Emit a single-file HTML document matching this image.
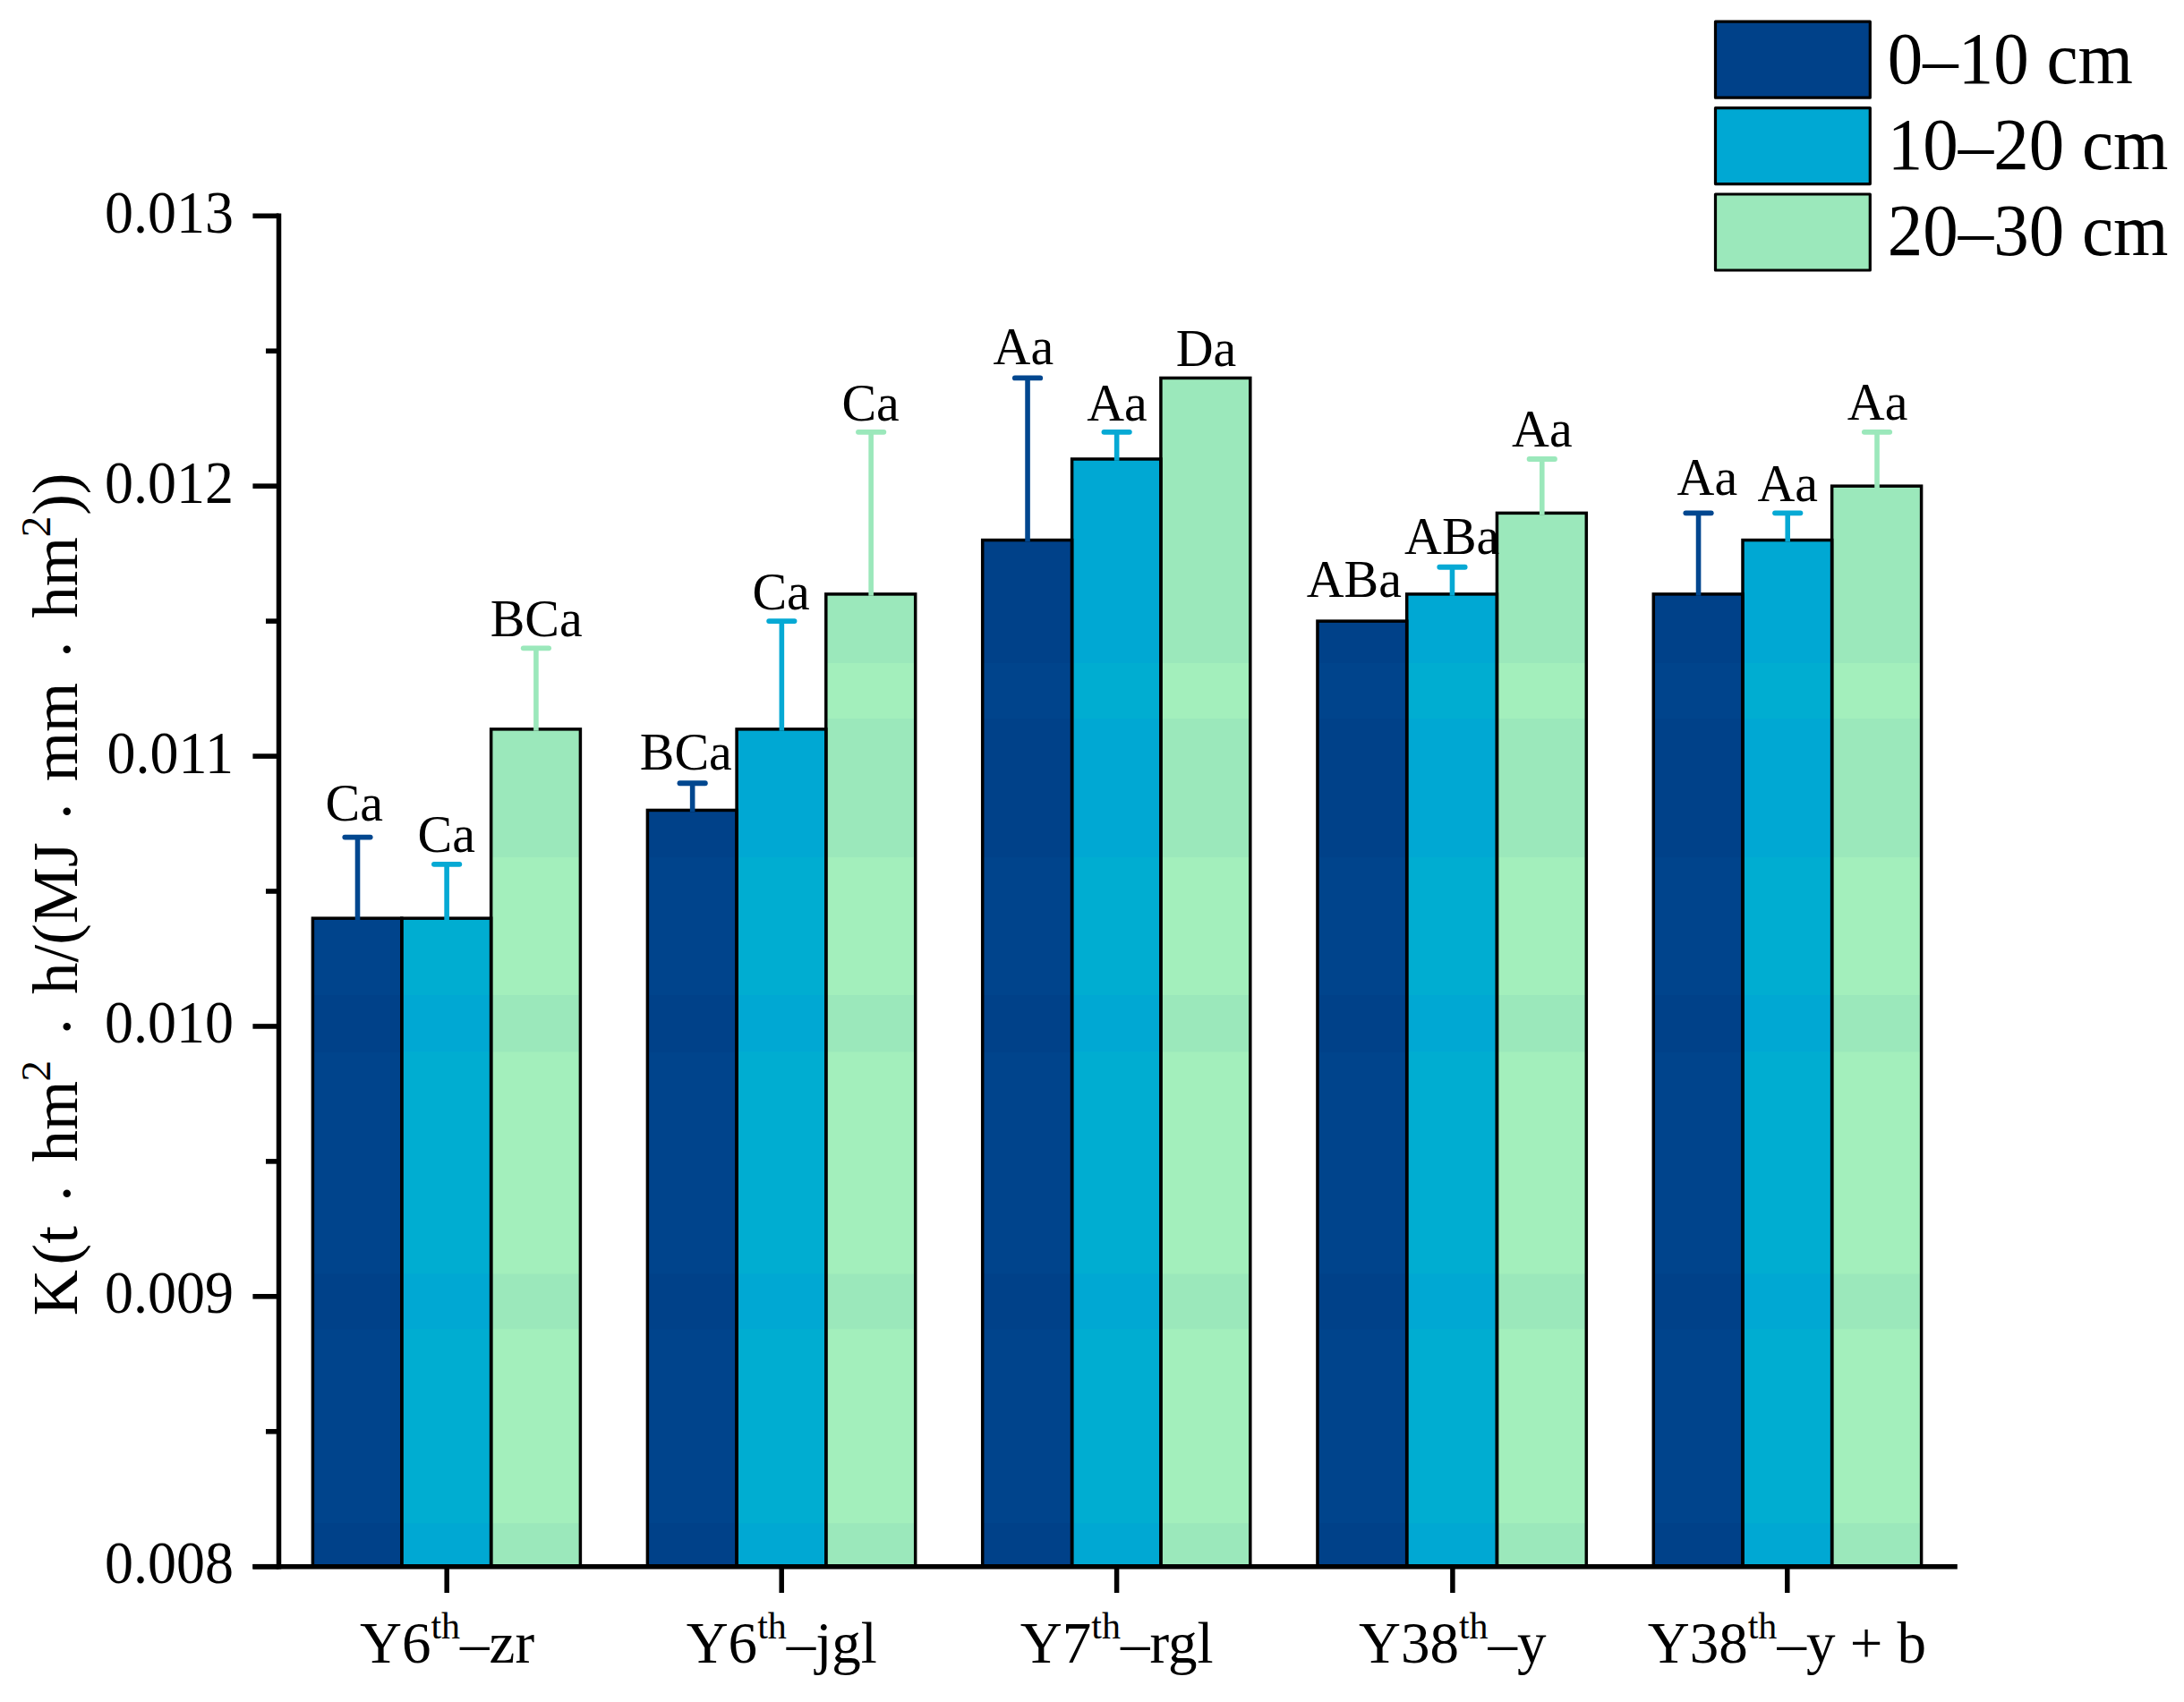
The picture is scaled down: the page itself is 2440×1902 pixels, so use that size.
<!DOCTYPE html>
<html lang="en">
<head>
<meta charset="utf-8">
<title>Soil erodibility K by depth</title>
<style>
html,body{margin:0;padding:0;background:#fff;}
body{width:2440px;height:1902px;overflow:hidden;}
svg{display:block;}
text{font-family:"Liberation Serif","Times New Roman",serif;fill:#000;}
</style>
</head>
<body>
<svg width="2440" height="1902" viewBox="0 0 2440 1902">
<rect x="0" y="0" width="2440" height="1902" fill="#fff"/>

<g stroke="none">
<rect x="349.40" y="1026.19" width="99.40" height="724.51" fill="#004189"/>
<rect x="349.40" y="1026.19" width="99.40" height="85.81" fill="#00448c"/>
<rect x="349.40" y="1175.50" width="99.40" height="248.10" fill="#00448c"/>
<rect x="349.40" y="1485.30" width="99.40" height="216.90" fill="#00448c"/>
<rect x="448.80" y="1026.19" width="99.85" height="724.51" fill="#00a8d3"/>
<rect x="448.80" y="1026.19" width="99.85" height="85.81" fill="#00add1"/>
<rect x="448.80" y="1175.50" width="99.85" height="248.10" fill="#00add1"/>
<rect x="448.80" y="1485.30" width="99.85" height="216.90" fill="#00add1"/>
<rect x="548.65" y="814.87" width="99.75" height="935.83" fill="#9be8bb"/>
<rect x="548.65" y="958.00" width="99.75" height="154.00" fill="#a3efbc"/>
<rect x="548.65" y="1175.50" width="99.75" height="248.10" fill="#a3efbc"/>
<rect x="548.65" y="1485.30" width="99.75" height="216.90" fill="#a3efbc"/>
<rect x="723.40" y="905.44" width="99.70" height="845.26" fill="#004189"/>
<rect x="723.40" y="958.00" width="99.70" height="154.00" fill="#00448c"/>
<rect x="723.40" y="1175.50" width="99.70" height="248.10" fill="#00448c"/>
<rect x="723.40" y="1485.30" width="99.70" height="216.90" fill="#00448c"/>
<rect x="823.10" y="814.87" width="99.70" height="935.83" fill="#00a8d3"/>
<rect x="823.10" y="958.00" width="99.70" height="154.00" fill="#00add1"/>
<rect x="823.10" y="1175.50" width="99.70" height="248.10" fill="#00add1"/>
<rect x="823.10" y="1485.30" width="99.70" height="216.90" fill="#00add1"/>
<rect x="922.80" y="663.93" width="99.90" height="1086.77" fill="#9be8bb"/>
<rect x="922.80" y="741.00" width="99.90" height="62.00" fill="#a3efbc"/>
<rect x="922.80" y="958.00" width="99.90" height="154.00" fill="#a3efbc"/>
<rect x="922.80" y="1175.50" width="99.90" height="248.10" fill="#a3efbc"/>
<rect x="922.80" y="1485.30" width="99.90" height="216.90" fill="#a3efbc"/>
<rect x="1097.70" y="603.56" width="99.90" height="1147.14" fill="#004189"/>
<rect x="1097.70" y="741.00" width="99.90" height="62.00" fill="#00448c"/>
<rect x="1097.70" y="958.00" width="99.90" height="154.00" fill="#00448c"/>
<rect x="1097.70" y="1175.50" width="99.90" height="248.10" fill="#00448c"/>
<rect x="1097.70" y="1485.30" width="99.90" height="216.90" fill="#00448c"/>
<rect x="1197.60" y="512.99" width="99.30" height="1237.71" fill="#00a8d3"/>
<rect x="1197.60" y="741.00" width="99.30" height="62.00" fill="#00add1"/>
<rect x="1197.60" y="958.00" width="99.30" height="154.00" fill="#00add1"/>
<rect x="1197.60" y="1175.50" width="99.30" height="248.10" fill="#00add1"/>
<rect x="1197.60" y="1485.30" width="99.30" height="216.90" fill="#00add1"/>
<rect x="1296.90" y="422.43" width="99.90" height="1328.27" fill="#9be8bb"/>
<rect x="1296.90" y="741.00" width="99.90" height="62.00" fill="#a3efbc"/>
<rect x="1296.90" y="958.00" width="99.90" height="154.00" fill="#a3efbc"/>
<rect x="1296.90" y="1175.50" width="99.90" height="248.10" fill="#a3efbc"/>
<rect x="1296.90" y="1485.30" width="99.90" height="216.90" fill="#a3efbc"/>
<rect x="1471.95" y="694.12" width="99.75" height="1056.58" fill="#004189"/>
<rect x="1471.95" y="741.00" width="99.75" height="62.00" fill="#00448c"/>
<rect x="1471.95" y="958.00" width="99.75" height="154.00" fill="#00448c"/>
<rect x="1471.95" y="1175.50" width="99.75" height="248.10" fill="#00448c"/>
<rect x="1471.95" y="1485.30" width="99.75" height="216.90" fill="#00448c"/>
<rect x="1571.70" y="663.93" width="100.75" height="1086.77" fill="#00a8d3"/>
<rect x="1571.70" y="741.00" width="100.75" height="62.00" fill="#00add1"/>
<rect x="1571.70" y="958.00" width="100.75" height="154.00" fill="#00add1"/>
<rect x="1571.70" y="1175.50" width="100.75" height="248.10" fill="#00add1"/>
<rect x="1571.70" y="1485.30" width="100.75" height="216.90" fill="#00add1"/>
<rect x="1672.45" y="573.37" width="99.85" height="1177.33" fill="#9be8bb"/>
<rect x="1672.45" y="741.00" width="99.85" height="62.00" fill="#a3efbc"/>
<rect x="1672.45" y="958.00" width="99.85" height="154.00" fill="#a3efbc"/>
<rect x="1672.45" y="1175.50" width="99.85" height="248.10" fill="#a3efbc"/>
<rect x="1672.45" y="1485.30" width="99.85" height="216.90" fill="#a3efbc"/>
<rect x="1847.30" y="663.93" width="99.70" height="1086.77" fill="#004189"/>
<rect x="1847.30" y="741.00" width="99.70" height="62.00" fill="#00448c"/>
<rect x="1847.30" y="958.00" width="99.70" height="154.00" fill="#00448c"/>
<rect x="1847.30" y="1175.50" width="99.70" height="248.10" fill="#00448c"/>
<rect x="1847.30" y="1485.30" width="99.70" height="216.90" fill="#00448c"/>
<rect x="1947.00" y="603.56" width="99.65" height="1147.14" fill="#00a8d3"/>
<rect x="1947.00" y="741.00" width="99.65" height="62.00" fill="#00add1"/>
<rect x="1947.00" y="958.00" width="99.65" height="154.00" fill="#00add1"/>
<rect x="1947.00" y="1175.50" width="99.65" height="248.10" fill="#00add1"/>
<rect x="1947.00" y="1485.30" width="99.65" height="216.90" fill="#00add1"/>
<rect x="2046.65" y="543.18" width="99.95" height="1207.52" fill="#9be8bb"/>
<rect x="2046.65" y="741.00" width="99.95" height="62.00" fill="#a3efbc"/>
<rect x="2046.65" y="958.00" width="99.95" height="154.00" fill="#a3efbc"/>
<rect x="2046.65" y="1175.50" width="99.95" height="248.10" fill="#a3efbc"/>
<rect x="2046.65" y="1485.30" width="99.95" height="216.90" fill="#a3efbc"/>
</g>
<g stroke="#000" stroke-width="3.50" stroke-linejoin="miter" fill="none">
<rect x="349.40" y="1026.19" width="99.40" height="724.51"/>
<rect x="448.80" y="1026.19" width="99.85" height="724.51"/>
<rect x="548.65" y="814.87" width="99.75" height="935.83"/>
<rect x="723.40" y="905.44" width="99.70" height="845.26"/>
<rect x="823.10" y="814.87" width="99.70" height="935.83"/>
<rect x="922.80" y="663.93" width="99.90" height="1086.77"/>
<rect x="1097.70" y="603.56" width="99.90" height="1147.14"/>
<rect x="1197.60" y="512.99" width="99.30" height="1237.71"/>
<rect x="1296.90" y="422.43" width="99.90" height="1328.27"/>
<rect x="1471.95" y="694.12" width="99.75" height="1056.58"/>
<rect x="1571.70" y="663.93" width="100.75" height="1086.77"/>
<rect x="1672.45" y="573.37" width="99.85" height="1177.33"/>
<rect x="1847.30" y="663.93" width="99.70" height="1086.77"/>
<rect x="1947.00" y="603.56" width="99.65" height="1147.14"/>
<rect x="2046.65" y="543.18" width="99.95" height="1207.52"/>
</g>
<g stroke-linecap="round" fill="none">
<path d="M399.50 1027.99V935.62" stroke="#01478f" stroke-width="5.6" stroke-linecap="butt"/>
<path d="M385.30 935.62H413.70" stroke="#01478f" stroke-width="5.8"/>
<path d="M499.12 1027.99V965.81" stroke="#06a9d4" stroke-width="5.6" stroke-linecap="butt"/>
<path d="M484.93 965.81H513.33" stroke="#06a9d4" stroke-width="5.8"/>
<path d="M598.92 816.67V724.31" stroke="#9be8bb" stroke-width="5.6" stroke-linecap="butt"/>
<path d="M584.72 724.31H613.12" stroke="#9be8bb" stroke-width="5.8"/>
<path d="M773.65 907.24V875.25" stroke="#01478f" stroke-width="5.6" stroke-linecap="butt"/>
<path d="M759.45 875.25H787.85" stroke="#01478f" stroke-width="5.8"/>
<path d="M873.35 816.67V694.12" stroke="#06a9d4" stroke-width="5.6" stroke-linecap="butt"/>
<path d="M859.15 694.12H887.55" stroke="#06a9d4" stroke-width="5.8"/>
<path d="M973.15 665.73V482.80" stroke="#9be8bb" stroke-width="5.6" stroke-linecap="butt"/>
<path d="M958.95 482.80H987.35" stroke="#9be8bb" stroke-width="5.8"/>
<path d="M1148.05 605.36V422.43" stroke="#01478f" stroke-width="5.6" stroke-linecap="butt"/>
<path d="M1133.85 422.43H1162.25" stroke="#01478f" stroke-width="5.8"/>
<path d="M1247.65 514.79V482.80" stroke="#06a9d4" stroke-width="5.6" stroke-linecap="butt"/>
<path d="M1233.45 482.80H1261.85" stroke="#06a9d4" stroke-width="5.8"/>
<path d="M1622.48 665.73V633.74" stroke="#06a9d4" stroke-width="5.6" stroke-linecap="butt"/>
<path d="M1608.28 633.74H1636.68" stroke="#06a9d4" stroke-width="5.8"/>
<path d="M1722.78 575.17V512.99" stroke="#9be8bb" stroke-width="5.6" stroke-linecap="butt"/>
<path d="M1708.58 512.99H1736.98" stroke="#9be8bb" stroke-width="5.8"/>
<path d="M1897.55 665.73V573.37" stroke="#01478f" stroke-width="5.6" stroke-linecap="butt"/>
<path d="M1883.35 573.37H1911.75" stroke="#01478f" stroke-width="5.8"/>
<path d="M1997.23 605.36V573.37" stroke="#06a9d4" stroke-width="5.6" stroke-linecap="butt"/>
<path d="M1983.03 573.37H2011.43" stroke="#06a9d4" stroke-width="5.8"/>
<path d="M2097.03 544.98V482.80" stroke="#9be8bb" stroke-width="5.6" stroke-linecap="butt"/>
<path d="M2082.83 482.80H2111.22" stroke="#9be8bb" stroke-width="5.8"/>
</g>
<g stroke="#000" fill="none">
<path d="M311.50 238.55V1753.45" stroke-width="5.5"/>
<path d="M282.4 1750.70H2186.8" stroke-width="5.6"/>
<path d="M282.4 1750.70H311.50" stroke-width="5.6"/>
<path d="M297 1599.76H311.50" stroke-width="5.6"/>
<path d="M282.4 1448.82H311.50" stroke-width="5.6"/>
<path d="M297 1297.88H311.50" stroke-width="5.6"/>
<path d="M282.4 1146.94H311.50" stroke-width="5.6"/>
<path d="M297 996.00H311.50" stroke-width="5.6"/>
<path d="M282.4 845.06H311.50" stroke-width="5.6"/>
<path d="M297 694.12H311.50" stroke-width="5.6"/>
<path d="M282.4 543.18H311.50" stroke-width="5.6"/>
<path d="M297 392.24H311.50" stroke-width="5.6"/>
<path d="M282.4 241.30H311.50" stroke-width="5.6"/>
<path d="M499.20 1750.70V1780" stroke-width="5.5"/>
<path d="M873.20 1750.70V1780" stroke-width="5.5"/>
<path d="M1247.60 1750.70V1780" stroke-width="5.5"/>
<path d="M1622.90 1750.70V1780" stroke-width="5.5"/>
<path d="M1996.80 1750.70V1780" stroke-width="5.5"/>
</g>
<g font-size="64" text-anchor="end">
<text transform="translate(261 1769.1) scale(1 1.045)">0.008</text>
<text transform="translate(261 1467.2) scale(1 1.045)">0.009</text>
<text transform="translate(261 1165.3) scale(1 1.045)">0.010</text>
<text transform="translate(261 863.5) scale(1 1.045)">0.011</text>
<text transform="translate(261 561.6) scale(1 1.045)">0.012</text>
<text transform="translate(261 259.7) scale(1 1.045)">0.013</text>
</g>
<g font-size="58" text-anchor="middle">
<text transform="translate(395.8 917.1) scale(1 1.015)">Ca</text>
<text transform="translate(498.8 952.4) scale(1 1.015)">Ca</text>
<text transform="translate(599.2 710.7) scale(1 1.015)">BCa</text>
<text transform="translate(766.3 859.7) scale(1 1.015)">BCa</text>
<text transform="translate(872.6 681.0) scale(1 1.015)">Ca</text>
<text transform="translate(972.6 469.5) scale(1 1.015)">Ca</text>
<text transform="translate(1143.4 406.7) scale(1 1.015)">Aa</text>
<text transform="translate(1248.0 469.7) scale(1 1.015)">Aa</text>
<text transform="translate(1347.5 408.8) scale(1 1.015)">Da</text>
<text transform="translate(1512.8 666.7) scale(1 1.015)">ABa</text>
<text transform="translate(1622.2 619.2) scale(1 1.015)">ABa</text>
<text transform="translate(1722.9 499.0) scale(1 1.015)">Aa</text>
<text transform="translate(1907.4 552.5) scale(1 1.015)">Aa</text>
<text transform="translate(1997.3 559.5) scale(1 1.015)">Aa</text>
<text transform="translate(2097.6 469.0) scale(1 1.015)">Aa</text>
</g>
<g font-size="65" text-anchor="middle">
<text x="499.5" y="1857.6">Y6<tspan font-size="42" dy="-27">th</tspan><tspan dy="27">–zr</tspan></text>
<text x="873.3" y="1857.6">Y6<tspan font-size="42" dy="-27">th</tspan><tspan dy="27">–jgl</tspan></text>
<text x="1247.7" y="1857.6">Y7<tspan font-size="42" dy="-27">th</tspan><tspan dy="27">–rgl</tspan></text>
<text x="1622.8" y="1857.6">Y38<tspan font-size="42" dy="-27">th</tspan><tspan dy="27">–y</tspan></text>
<text x="1996.4" y="1857.6">Y38<tspan font-size="42" dy="-27">th</tspan><tspan dy="27">–y + b</tspan></text>
</g>
<text font-size="71" transform="translate(86 996) rotate(-90)"><tspan x="-474.2" y="0">K</tspan><tspan x="-417.4" y="0">(t </tspan><tspan x="-349.4" y="12.8">· </tspan><tspan x="-302.6" y="0">hm</tspan><tspan x="-212.4" y="-30" font-size="47">2 </tspan><tspan x="-163.0" y="12.8">· </tspan><tspan x="-115.0" y="0">h/(MJ </tspan><tspan x="77.6" y="12.8">· </tspan><tspan x="122.8" y="0">mm </tspan><tspan x="258.4" y="12.8">· </tspan><tspan x="305.2" y="0">hm</tspan><tspan x="395.8" y="-30" font-size="47">2</tspan><tspan x="420.2" y="0">))</tspan></text>
<g stroke="#000" stroke-width="3.2" stroke-linejoin="round">
<rect x="1916.5" y="24.2" width="172.8" height="85" fill="#004189"/>
<rect x="1916.5" y="120.6" width="172.8" height="85" fill="#00a8d3"/>
<rect x="1916.5" y="217.0" width="172.8" height="85" fill="#9be8bb"/>
</g>
<g font-size="79">
<text transform="translate(2108.8 93.3) scale(1 1.035)">0–10 cm</text>
<text transform="translate(2108.8 188.8) scale(1 1.035)">10–20 cm</text>
<text transform="translate(2108.8 285.4) scale(1 1.035)">20–30 cm</text>
</g>
</svg>
</body>
</html>
